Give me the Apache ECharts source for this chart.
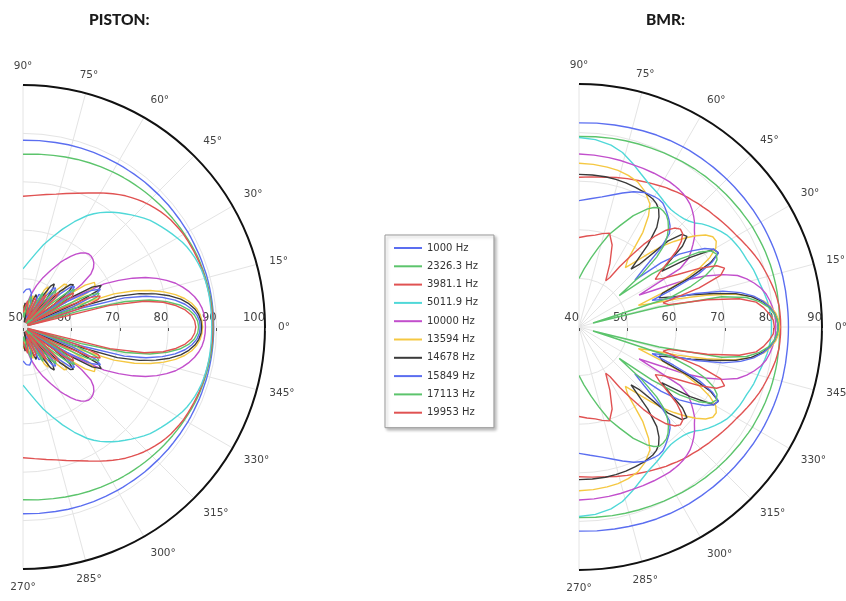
<!DOCTYPE html>
<html>
<head>
<meta charset="utf-8">
<script src="https://cdn.jsdelivr.net/npm/echarts@6/dist/echarts.min.js"></script>
<style>
html,body{margin:0;padding:0;background:#fff;}
#chart{width:846px;height:601px;}
</style>
</head>
<body>
<div id="chart"></div>
<script>
// Angles (degrees off axis) at which the upper half of each pattern was read; patterns are symmetric about 0°
const halfAngles = [0,2,4,6,8,10,12,14,16,18,20,22,24,26,28,30,32,34,36,38,40,42,44,46,48,50,52,54,56,58,60,64,68,72,76,80,85,90];
const freqLabels = ['1000 Hz','2326.3 Hz','3981.1 Hz','5011.9 Hz','10000 Hz','13594 Hz','14678 Hz','15849 Hz','17113 Hz','19953 Hz'];
const lineColors = ['#5b6ef0','#5cc46c','#e05252','#50d8d8','#c24fcc','#f5c842','#3a3a3a','#5b6ef0','#5cc46c','#e05252'];
const pistonTicks = [50,60,70,80,90,100];
const bmrTicks = [40,50,60,70,80,90];

// PISTON SPL (dB)
const piston_1000  = [89.4,89.4,89.4,89.4,89.4,89.4,89.4,89.4,89.4,89.35,89.35,89.35,89.3,89.3,89.3,89.3,89.25,89.25,89.2,89.2,89.2,89.15,89.15,89.1,89.1,89.1,89.05,89.05,89,89,89,88.95,88.9,88.85,88.8,88.7,88.65,88.6];
const piston_2326  = [89.3,89.3,89.3,89.3,89.25,89.2,89.15,89.1,89.05,89,88.95,88.9,88.8,88.7,88.6,88.5,88.4,88.3,88.2,88.1,88,87.9,87.8,87.7,87.6,87.5,87.4,87.3,87.2,87.1,87,86.8,86.6,86.4,86.2,86,85.85,85.7];
const piston_3981  = [89.2,89.2,89.2,89.15,89.1,89.05,89,88.95,88.9,88.85,88.8,88.7,88.6,88.5,88.4,88.3,88.1,87.9,87.7,87.4,87.1,86.7,86.3,85.9,85.4,84.9,84.4,83.8,83.2,82.6,82,80.8,79.8,79,78.3,77.8,77.3,77];
const piston_5011  = [89,89,89,89,89,89,88.95,88.9,88.8,88.7,88.5,88.3,88,87.7,87.3,86.8,86.3,85.8,85.3,84.8,84.3,83.6,82.9,82.2,81.5,80.8,80.1,79.3,78.5,77.6,76.6,74.2,71.8,69.5,67.5,65.5,63.5,62];
const piston_10000 = [87.7,87.65,87.5,87.2,86.7,86,85.1,84,82.8,81.2,79.4,77.3,74.8,72,69,63,54,60,65,67.8,69,69.7,70.1,70.3,70.3,70,69.4,68.6,67.6,66.5,65.4,63,61,59,57,55,53,52];
const piston_13594 = [87.1,87,86.7,86.1,85.2,83.9,82.2,80,77.4,74.2,70,62,52,60,65,67.2,67.4,65.5,60.5,52,57,61,62.6,62.3,60,54,52,57,59.2,59.8,58.8,52,55.5,56.8,55.2,52,53.5,54.5];
const piston_14678 = [86.9,86.8,86.4,85.7,84.6,83.1,81,78.3,75,70.5,61,51,62,67.3,68.3,66.5,61,51,58,62.2,63.6,63.1,60.5,54,52,57.5,60,61,60.2,57,51,56.5,57.2,54.5,51,54,55,53];
const piston_15849 = [86.6,86.5,86,85.1,83.8,81.9,79.4,76.2,71.8,62.5,51,61,66.5,67.8,66.2,60.5,51,58,62,63.5,63,60,52.5,55,59,60.5,60.2,57.5,51,55,57.5,57.5,52,55,57.2,58,57.8,57];
const piston_17113 = [86.3,86.1,85.5,84.4,82.7,80.2,76.8,71.8,62.5,51,62,66.5,67.2,64.8,57.5,51,58.5,62,63.2,61.8,56.5,51,56.5,59.5,60.2,58.8,54.5,51,55,57.5,58.2,54,53,56,56.5,54,52,54];
const piston_19953 = [85.7,85.5,84.9,83.7,81.9,79.4,75.6,68.5,51,62,66.5,67.2,64.8,57.5,51,58,62,62.6,60.2,52.5,55,59,60.2,58.7,53.5,52,56.5,58.2,57.6,53.5,51,56,56.5,52.5,54,55.5,54,53];

// BMR SPL (dB)
const bmr_1000  = [83.1,83.1,83.1,83.1,83.1,83.15,83.15,83.2,83.2,83.2,83.2,83.2,83.2,83.2,83.2,83.2,83.15,83.15,83.1,83.1,83.05,83.05,83,83,82.95,82.95,82.9,82.9,82.85,82.85,82.8,82.7,82.6,82.45,82.3,82.2,82.1,82];
const bmr_2326  = [81.3,81.3,81.3,81.35,81.35,81.4,81.4,81.4,81.4,81.4,81.35,81.35,81.3,81.25,81.2,81.2,81.1,81,80.95,80.85,80.8,80.75,80.65,80.6,80.5,80.45,80.35,80.3,80.2,80.1,80,79.85,79.7,79.6,79.5,79.4,79.3,79.2];
const bmr_3981  = [81.5,81.5,81.45,81.4,81.2,81,80.7,80.4,80.1,79.8,79.5,79.1,78.7,78.3,77.9,77.5,77.2,76.9,76.6,76.3,76,75.8,75.5,75.3,75,74.8,74.55,74.3,74,73.8,73.5,73,72.5,72.1,71.7,71.3,71,70.8];
const bmr_5011  = [79.6,79.6,79.5,79.3,79.1,78.8,78.5,78.2,78,77.8,77.5,77.2,77,76.8,76.5,76.2,75.8,75.2,74.5,73.8,73,72,71.4,71,70.8,70.7,70.7,70.9,71.2,71.6,72,72.8,74,75.5,77,78,78.7,79];
const bmr_10000 = [80.5,80.45,80.3,80,79.6,79.1,78.3,77.2,75.9,74.3,71.5,68,63.5,57.5,54,64,66.5,67.8,69,70.2,71,72,72.8,73.5,74.1,74.5,74.8,75,75.1,75.2,75.2,75.2,75.2,75.2,75.3,75.4,75.5,75.6];
const bmr_13594 = [81.3,81.1,80.6,79.7,78.4,76.2,72.5,67,61,55.5,53,58,63.5,67.5,70.5,72.5,73.3,73.2,72.2,70.5,68.5,66.3,64,61.5,59,57,55.5,57,63.5,67,69.2,71,72.2,72.8,73.2,73.4,73.6,73.7];
const bmr_14678 = [81,80.8,80.3,79.4,78,76,73,68.5,64,60,57.5,58.5,65,70,72.5,72,67,60.5,63,67,69,68.5,65.5,58,56,62,66,68,69.3,70,70.4,70.8,71,71.2,71.3,71.4,71.4,71.4];
const bmr_15849 = [81,80.8,80.3,79.5,78.2,76.5,74,70.5,65,58.5,56,61,67,70.5,72.5,72,70.5,68,65.5,61.5,55,58,63.5,66.8,68,68.8,69.5,70.2,70.8,71,71,70.8,70,69,68,67.2,66.5,66];
const bmr_17113 = [81,80.8,80.2,79.2,77.5,75,70,57,43,60,64.5,68,70.3,71.6,72,71.3,69,65,58.5,50.5,57,61.5,64.5,66.2,67.5,68.5,69.2,69.5,69.6,69,68,65.5,62.5,60,57,54.5,52,50];
const bmr_19953 = [80.2,80,79.2,78.2,76.8,73.5,67,59,58,66,71,72.3,71,67.5,63,60,58.5,60,62.5,65.5,67.5,68.7,69,68.3,66.8,64.5,61.5,58,55,52,51,54.5,58.2,60.3,59.8,59.2,58.8,58.4];

const pistonData = [piston_1000,piston_2326,piston_3981,piston_5011,piston_10000,piston_13594,piston_14678,piston_15849,piston_17113,piston_19953];
const bmrData = [bmr_1000,bmr_2326,bmr_3981,bmr_5011,bmr_10000,bmr_13594,bmr_14678,bmr_15849,bmr_17113,bmr_19953];

// angle value on the axis: 0 = 90° (top), 90 = 0°, 180 = 270° (bottom)
function toPolar(half){
  const pts = [];
  for (let k = half.length - 1; k >= 1; k--) pts.push([half[k], 90 + halfAngles[k]]);
  for (let k = 0; k < half.length; k++) pts.push([half[k], 90 - halfAngles[k]]);
  return pts;
}

const FONT = 'DejaVu Sans';
function angleAxis(idx){
  return {
    polarIndex: idx, type: 'value', min: 0, max: 180, interval: 15,
    startAngle: 90, endAngle: -90, clockwise: true,
    axisLine: {show: true, lineStyle: {color: '#111', width: 2}},
    axisTick: {show: false},
    axisLabel: {show: true, margin: 13, color: '#444', fontSize: 10.5, fontFamily: FONT,
      formatter: function(v){ let t = 90 - v; if (t < 0) t += 360; return t + '°'; }},
    splitLine: {show: true, lineStyle: {color: '#e4e4e4', width: 1}}
  };
}
function radiusAxis(idx, ticks){
  return {
    polarIndex: idx, type: 'value', min: ticks[0], max: ticks[ticks.length-1], interval: 10,
    axisLine: {show: false}, axisTick: {show: false}, axisLabel: {show: false},
    splitLine: {show: true, lineStyle: {color: '#e4e4e4', width: 1}}
  };
}
function labelAxis(idx, ticks){
  return {
    gridIndex: idx, type: 'value', position: 'top', min: ticks[0], max: ticks[ticks.length-1], interval: 10,
    axisLine: {show: false},
    axisTick: {show: true, inside: true, length: 3, lineStyle: {color: '#555'}},
    splitLine: {show: false},
    axisLabel: {show: true, align: 'right', margin: 3, color: '#444', fontSize: 11.5, fontFamily: FONT}
  };
}

const series = [];
[pistonData, bmrData].forEach(function(set, p){
  set.forEach(function(vals, i){
    series.push({
      name: freqLabels[i], type: 'line', coordinateSystem: 'polar', polarIndex: p,
      data: toPolar(vals), symbol: 'none', smooth: false, silent: true,
      lineStyle: {width: 1.4, color: lineColors[i]}, itemStyle: {color: lineColors[i]},
      z: 3
    });
  });
});

const chart = echarts.init(document.getElementById('chart'), null, {renderer: 'canvas'});
chart.setOption({
  animation: false,
  backgroundColor: '#fff',
  title: [
    {text: 'PISTON:', left: 84, top: 7, textStyle: {fontFamily: 'Lato', fontWeight: 900, fontSize: 15.5, color: '#1a1a1a'}},
    {text: 'BMR:', left: 641, top: 7, textStyle: {fontFamily: 'Lato', fontWeight: 900, fontSize: 15.5, color: '#1a1a1a'}}
  ],
  polar: [
    {center: [23, 327], radius: 242},
    {center: [579, 327], radius: 243}
  ],
  angleAxis: [angleAxis(0), angleAxis(1)],
  radiusAxis: [radiusAxis(0, pistonTicks), radiusAxis(1, bmrTicks)],
  grid: [
    {left: 23, top: 327, width: 242, height: 1, show: false},
    {left: 579, top: 327, width: 243, height: 1, show: false}
  ],
  xAxis: [labelAxis(0, pistonTicks), labelAxis(1, bmrTicks)],
  yAxis: [
    {gridIndex: 0, show: false, min: 0, max: 1},
    {gridIndex: 1, show: false, min: 0, max: 1}
  ],
  legend: {
    data: freqLabels, orient: 'vertical', left: 385, top: 235,
    padding: [8, 16, 10, 9], itemGap: 8.3, itemWidth: 28, itemHeight: 2,
    icon: 'rect',
    selectedMode: false,
    backgroundColor: '#fff', borderColor: '#999', borderWidth: 1,
    shadowBlur: 3, shadowColor: 'rgba(0,0,0,0.25)', shadowOffsetX: 2, shadowOffsetY: 2,
    textStyle: {fontSize: 10, color: '#333', fontFamily: FONT}
  },
  series: series
});
</script>
</body>
</html>
